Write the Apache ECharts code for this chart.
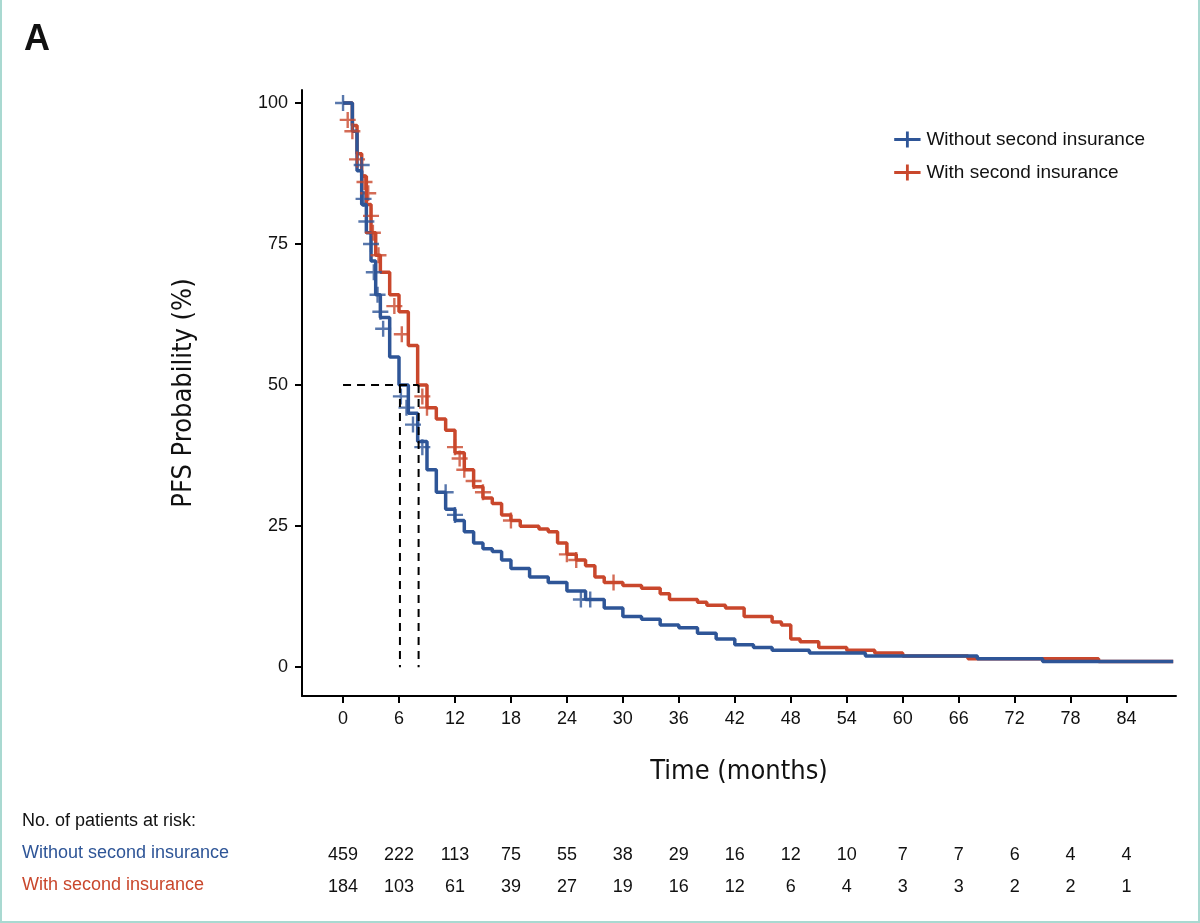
<!DOCTYPE html><html><head><meta charset="utf-8"><script src="https://cdn.jsdelivr.net/npm/echarts@6/dist/echarts.min.js"></script>
<style>html,body{margin:0;padding:0;background:#fff}#c{width:1200px;height:923px;box-sizing:border-box;border:2px solid #a9d9d1;border-top:none}</style></head><body><div id="c"></div><script>
const blueT=[0,1,1.5,2,2.5,3,3.5,4,5,6,7,8,9,10,11,12,13,14,15,16,17,18,20,22,24,26,28,30,32,34,36,38,40,42,44,46,50,56,68,75,89];
const blueS=[100,95,88,82,77,72,66,62,55,50,45,40,35,31,28,26,24,22,21,20.5,19,17.5,16,15,13.5,12,10.5,9,8.5,7.5,7,6,5,4,3.5,3,2.5,2,1.5,1,1];
const redT=[0,1,1.5,2,2.5,3,3.5,4,5,6,7,8,9,10,11,12,13,14,15,16,17,18,19,21,22,23,24,25,26,27,28,30,32,34,35,38,39,41,43,46,47,48,49,51,54,57,60,67,81,89];
const redS=[100,96,91,87,82,77,73,70,66,63,57,50,46,44,42,38,35,32,30,29,27,26,25,24.5,24,22,20,19,18,16,15,14.5,14,13,12,11.5,11,10.5,9,8,7.5,5,4.5,3.5,3,2.5,2,1.5,1,1];
const blueCens=[[0,100],[2,89],[2.2,83],[2.5,79],[3,75],[3.3,70],[3.7,66],[4,63],[4.3,60],[6.2,48],[6.8,46],[7.5,43],[8.5,39],[11,31],[12,27],[25.5,12],[26.5,12]];
const redCens=[[0.5,97],[1,95],[1.5,90],[2.3,86],[2.7,84],[3,80],[3.2,77],[3.8,73],[5.5,64],[6.3,59],[8.5,48],[9,46],[12,39],[12.5,37],[13,35],[14,33],[15,31],[18,26],[24,20],[25,19],[29,15]];
const xTicks=[0,6,12,18,24,30,36,42,48,54,60,66,72,78,84];
const yTicks=[0,25,50,75,100];
const riskBlue=[459,222,113,75,55,38,29,16,12,10,7,7,6,4,4];
const riskRed=[184,103,61,39,27,19,16,12,6,4,3,3,2,2,1];
const medians=[6.1,8.1];
const BLUE='#2e5597',RED='#c9472c';
const plus='path://M0,4.25L10,4.25L10,5.75L0,5.75ZM4.25,0L5.75,0L5.75,10L4.25,10Z';
const zip=(t,s)=>t.map((v,i)=>[v,s[i]]);
const ch=echarts.init(document.getElementById('c'));
const ax={fontSize:18,color:'#111',fontFamily:'Liberation Sans'};
const licon='path://M0,7L28,7L28,10L0,10ZM12.5,0L15.5,0L15.5,17L12.5,17Z';
ch.setOption({animation:false,
grid:{left:300,top:90,right:22,bottom:225},
legend:{right:48,top:125,orient:'vertical',itemGap:14,itemWidth:28,itemHeight:16,textStyle:{fontSize:19,color:'#111',fontFamily:'Liberation Sans'},
 data:[{name:'Without second insurance',icon:licon},{name:'With second insurance',icon:licon}]},
xAxis:{type:'value',min:-4.4,max:89.3,name:'Time (months)',nameLocation:'middle',nameGap:62,nameTextStyle:{fontSize:27,color:'#111',fontFamily:'DejaVu Sans Condensed'},
 axisLine:{onZero:false,lineStyle:{color:'#000',width:2}},axisTick:{customValues:xTicks,length:7,lineStyle:{width:2,color:'#000'}},axisLabel:Object.assign({customValues:xTicks,margin:14},ax),splitLine:{show:false}},
yAxis:{type:'value',min:-5.1,max:102.3,name:'PFS Probability (%)',nameLocation:'middle',nameGap:105,nameTextStyle:{fontSize:27,color:'#111',fontFamily:'DejaVu Sans Condensed'},
 axisLine:{show:true,onZero:false,lineStyle:{color:'#000',width:2}},axisTick:{show:true,customValues:yTicks,length:7,lineStyle:{width:2,color:'#000'}},axisLabel:Object.assign({customValues:yTicks,margin:14},ax),splitLine:{show:false}},
series:[
{name:'Without second insurance',type:'line',step:'end',data:zip(blueT,blueS),showSymbol:false,lineStyle:{color:BLUE,width:3.5},itemStyle:{color:BLUE},z:3},
{name:'With second insurance',type:'line',step:'end',data:zip(redT,redS),showSymbol:false,lineStyle:{color:RED,width:3.5},itemStyle:{color:RED},z:2},
{name:'Without second insurance',type:'scatter',data:blueCens,symbol:plus,symbolSize:[16,16],itemStyle:{color:BLUE},z:4},
{name:'With second insurance',type:'scatter',data:redCens,symbol:plus,symbolSize:[16,16],itemStyle:{color:RED},z:3},
{type:'line',data:[[0,50],[medians[1],50]],showSymbol:false,lineStyle:{color:'#000',type:[8,6],width:2},z:5,silent:true},
{type:'line',data:[[medians[0],50],[medians[0],0]],showSymbol:false,lineStyle:{color:'#000',type:[8,6],width:2},z:5,silent:true},
{type:'line',data:[[medians[1],50],[medians[1],0]],showSymbol:false,lineStyle:{color:'#000',type:[8,6],width:2},z:5,silent:true}
]});
const g=[{type:'text',left:22,top:22,style:{text:'A',fontSize:36,fontWeight:'bold',fill:'#111',fontFamily:'Liberation Sans'}},
{type:'text',left:20,top:812,style:{text:'No. of patients at risk:',fontSize:18,fill:'#111',fontFamily:'Liberation Sans'}},
{type:'text',left:20,top:844,style:{text:'Without second insurance',fontSize:18,fill:BLUE,fontFamily:'Liberation Sans'}},
{type:'text',left:20,top:876,style:{text:'With second insurance',fontSize:18,fill:RED,fontFamily:'Liberation Sans'}}];
xTicks.forEach((t,i)=>{const px=ch.convertToPixel({gridIndex:0},[t,0])[0];
 g.push({type:'text',x:px,y:855,style:{text:String(riskBlue[i]),fontSize:18,fill:'#111',align:'center',verticalAlign:'middle',fontFamily:'Liberation Sans'}});
 g.push({type:'text',x:px,y:887,style:{text:String(riskRed[i]),fontSize:18,fill:'#111',align:'center',verticalAlign:'middle',fontFamily:'Liberation Sans'}});});
ch.setOption({graphic:g});
</script></body></html>
